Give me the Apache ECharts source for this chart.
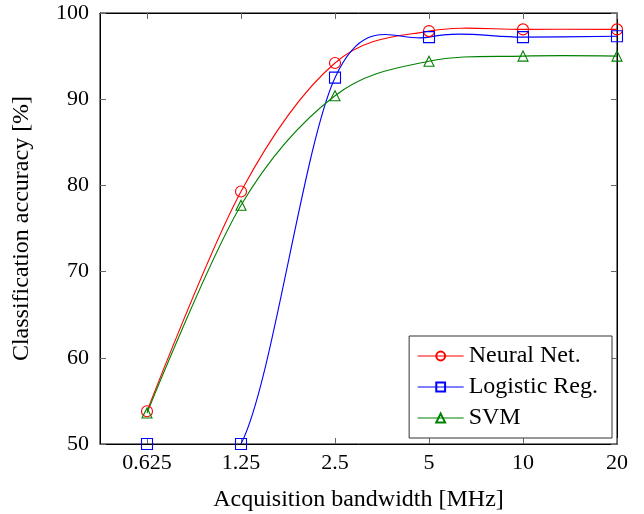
<!DOCTYPE html>
<html>
<head>
<meta charset="utf-8">
<script src="https://cdn.jsdelivr.net/npm/echarts@6/dist/echarts.min.js"></script>
<style>
  html, body { margin: 0; padding: 0; background: #fff; }
  #chart { width: 644px; height: 514px; }
</style>
</head>
<body>
<div id="chart"></div>
<script>
// bandwidth ticks (log-spaced, drawn evenly)
var xLabels = ['0.625', '1.25', '2.5', '5', '10', '20'];
var yTicks = [50, 60, 70, 80, 90, 100];

// accuracy values
var neuralNet = [53.8, 79.3, 94.2, 97.9, 98.1, 98.1];
var logisticReg = [50.0, 50.0, 92.5, 97.2, 97.2, 97.3];
var svm = [53.6, 77.7, 90.4, 94.4, 95.0, 95.0];

var tickIdx = xLabels.map(function (l, i) { return i; });
function pts(arr) {
  return arr.map(function (v, i) { return [i, v]; });
}

var font = 'Liberation Serif';
var myChart = echarts.init(document.getElementById('chart'));

// smooth curve like pgfplots "smooth" (cardinal spline), clipped to the grid
function curveSeries(id, data, color) {
  return {
    name: id, type: 'custom', z: 1, clip: true,
    data: pts(data),
    renderItem: function (params, api) {
      if (params.dataIndex !== 0) return null;
      var p = data.map(function (v, i) { return api.coord([i, v]); });
      var k = 1 / 6;
      var d = 'M' + p[0][0] + ' ' + p[0][1];
      for (var i = 0; i < p.length - 1; i++) {
        var a = p[i - 1] || p[i], b = p[i], c = p[i + 1], e = p[i + 2] || p[i + 1];
        var c1 = i === 0 ? b : [b[0] + (c[0] - a[0]) * k, b[1] + (c[1] - a[1]) * k];
        var c2 = i === p.length - 2 ? c : [c[0] - (e[0] - b[0]) * k, c[1] - (e[1] - b[1]) * k];
        d += ' C' + c1[0] + ' ' + c1[1] + ' ' + c2[0] + ' ' + c2[1] + ' ' + c[0] + ' ' + c[1];
      }
      return {
        type: 'path',
        shape: { pathData: d },
        style: { fill: 'none', stroke: color, lineWidth: 1.1 }
      };
    }
  };
}

function markSeries(name, data, symbol, size, color) {
  return {
    name: name, type: 'line', z: 2,
    data: pts(data),
    symbol: symbol, symbolSize: size,
    color: color,
    lineStyle: { width: 1.1, color: color, opacity: 0 },
    itemStyle: { color: 'rgba(255,255,255,0)', borderColor: color, borderWidth: 1.1 }
  };
}

var option = {
  animation: false,
  textStyle: { fontFamily: font },
  grid: {
    left: 100, right: 27, top: 13, bottom: 70,
    outerBoundsMode: 'none',
    show: true, borderColor: '#000', borderWidth: 1
  },
  legend: {
    orient: 'vertical',
    right: 32, bottom: 76,
    backgroundColor: '#fff',
    borderColor: '#333', borderWidth: 1,
    padding: [8, 14, 8, 8],
    itemWidth: 46, itemHeight: 11, itemGap: 7,
    lineStyle: { opacity: 1, width: 1.1 },
    textStyle: { fontFamily: font, fontSize: 24, color: '#000' },
    data: ['Neural Net.', 'Logistic Reg.', 'SVM']
  },
  xAxis: [{
    type: 'value',
    min: -0.5, max: 5,
    name: 'Acquisition bandwidth [MHz]',
    nameLocation: 'middle', nameGap: 44,
    nameTextStyle: { fontFamily: font, fontSize: 24, color: '#000' },
    axisLine: { onZero: false, lineStyle: { color: '#000' } },
    axisTick: { inside: true, length: 6, customValues: tickIdx, lineStyle: { color: '#666' } },
    axisLabel: {
      customValues: tickIdx, margin: 8,
      fontFamily: font, fontSize: 22, color: '#000',
      formatter: function (v) { return xLabels[Math.round(v)]; }
    },
    splitLine: { show: false }
  }, {
    type: 'value', position: 'top',
    min: -0.5, max: 5,
    axisLine: { onZero: false, lineStyle: { color: '#000' } },
    axisTick: { inside: true, length: 6, customValues: tickIdx, lineStyle: { color: '#666' } },
    axisLabel: { show: false },
    splitLine: { show: false }
  }],
  yAxis: [{
    type: 'value',
    min: 50, max: 100, interval: 10,
    name: 'Classification accuracy [%]',
    nameLocation: 'middle', nameGap: 66,
    nameTextStyle: { fontFamily: font, fontSize: 24, color: '#000' },
    axisLine: { show: true, onZero: false, lineStyle: { color: '#000' } },
    axisTick: { show: true, inside: true, length: 6, lineStyle: { color: '#666' } },
    axisLabel: { margin: 11, fontFamily: font, fontSize: 22, color: '#000' },
    splitLine: { show: false }
  }, {
    type: 'value', position: 'right',
    min: 50, max: 100, interval: 10,
    axisLine: { show: true, onZero: false, lineStyle: { color: '#000' } },
    axisTick: { show: true, inside: true, length: 6, lineStyle: { color: '#666' } },
    axisLabel: { show: false },
    splitLine: { show: false }
  }],
  series: [
    curveSeries('nn-curve', neuralNet, '#ff0000'),
    curveSeries('lr-curve', logisticReg, '#0000ff'),
    curveSeries('svm-curve', svm, '#008000'),
    markSeries('Neural Net.', neuralNet, 'circle', 11, '#ff0000'),
    markSeries('Logistic Reg.', logisticReg, 'rect', 11, '#0000ff'),
    markSeries('SVM', svm, 'triangle', 10, '#008000')
  ]
};

myChart.setOption(option);
</script>
</body>
</html>
